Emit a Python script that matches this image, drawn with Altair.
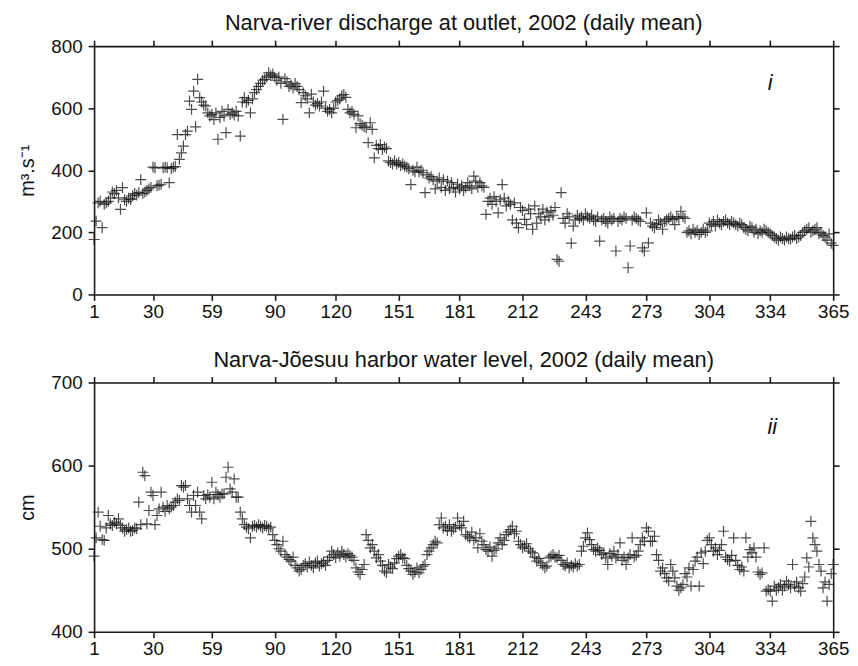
import altair as alt
import pandas as pd

FONT = "Liberation Sans"

days = list(range(1, 366))

discharge = [
    177, 236, 295, 300, 215, 290, 295, 300, 310, 330,
    325, 335, 311, 274, 344, 305, 300, 310, 306, 318,
    325, 320, 328, 370, 325, 330, 335, 340, 345, 410,
    408, 350, 352, 355, 408, 410, 408, 360, 405, 410,
    412, 515, 435, 456, 478, 515, 526, 623, 596, 655,
    540, 693, 634, 620, 610, 607, 585, 575, 580, 563,
    585, 500, 570, 590, 575, 521, 596, 580, 585, 578,
    590, 575, 510, 620, 634, 618, 625, 585, 630, 650,
    660, 670, 680, 690, 693, 700, 714, 705, 710, 700,
    690, 700, 680, 564, 695, 685, 670, 675, 665, 680,
    670, 660, 618, 650, 640, 630, 585, 645, 620, 610,
    615, 607, 620, 655, 600, 590, 596, 585, 600, 620,
    625, 630, 640, 644, 635, 596, 585, 590, 580, 537,
    575, 550, 545, 540, 537, 489, 553, 532, 440, 480,
    470, 483, 467, 475, 470, 430, 425, 420, 430, 420,
    425, 415, 420, 413, 410, 405, 354, 400, 395, 410,
    395, 400, 392, 328, 385, 375, 380, 370, 340, 365,
    375, 345, 370, 335, 365, 340, 360, 345, 330, 355,
    340, 350, 335, 345, 360, 350, 340, 381, 365, 345,
    360, 350, 345, 258, 300, 310, 290, 315, 300, 263,
    305, 354, 310, 285, 300, 290, 240, 295, 230, 215,
    280, 270, 242, 225, 275, 260, 210, 285, 230, 260,
    250, 275, 240, 265, 250, 270, 255, 280, 113, 107,
    328, 245, 230, 260, 250, 165, 220, 240, 255, 245,
    250, 240, 260, 250, 245, 255, 240, 235, 250, 172,
    240, 245, 235, 230, 250, 240, 245, 140, 235, 245,
    240, 250, 245, 86, 156, 240, 250, 245, 240, 235,
    150, 140, 263, 166, 230, 220, 215, 225, 240, 230,
    210, 235, 240, 245, 250, 242, 225, 250, 245, 268,
    250, 245, 200, 205, 195, 210, 200, 205, 193, 200,
    210, 200, 205, 230, 225, 235, 220, 240, 230, 225,
    235, 240, 230, 225, 235, 230, 225, 220, 230, 225,
    215, 210, 205, 220, 215, 200, 210, 195, 205, 200,
    210, 205, 200, 195, 190, 185, 180, 175, 185, 180,
    175, 185, 180, 178, 185, 190, 180, 185, 190, 200,
    205, 210, 215, 200, 205, 210, 215, 195, 200, 190,
    185, 175, 195, 165, 158,
]

water_level = [
    491, 513, 544, 527, 511, 510, 525, 540, 530, 528,
    532, 530, 536, 528, 525, 521, 523, 525, 521, 522,
    525, 524, 556, 529, 592, 588, 530, 546, 568, 564,
    529, 540, 548, 568, 550, 545, 552, 548, 550, 552,
    556, 560, 558, 576, 574, 576, 560, 552, 544, 564,
    552, 568, 544, 536, 564, 560, 565, 562, 580, 560,
    568, 565, 562, 566, 566, 586, 598, 572, 568, 584,
    562, 562, 544, 536, 529, 526, 524, 513, 527, 528,
    526, 529, 527, 525, 528, 527, 524, 526, 517, 510,
    505, 500, 497, 509, 493, 490, 487, 485, 490, 480,
    477, 473, 475, 480, 482, 478, 484, 480, 477, 483,
    485, 479, 482, 484, 480, 486, 490, 497, 493, 489,
    495, 491, 497, 493, 490, 494, 492, 490, 486, 477,
    472, 469, 475, 481, 517, 510, 501, 505, 497, 489,
    493, 485, 480, 473, 471, 481, 478, 476, 483, 488,
    491, 493, 489, 488, 480, 476, 473, 469, 472, 477,
    471, 475, 479, 481, 493, 497, 501, 505, 509, 507,
    529, 537, 525, 527, 522, 529, 521, 524, 526, 537,
    528, 525, 533, 517, 515, 513, 520, 510, 513, 501,
    518, 509, 505, 499, 497, 502, 491, 498, 500, 507,
    513, 505, 510, 517, 520, 523, 527, 518, 521, 509,
    505, 501, 503, 506, 500, 497, 495, 490, 485, 488,
    483, 480, 477, 479, 489, 491, 493, 490, 489, 492,
    486, 481, 479, 483, 477, 480, 478, 482, 479, 481,
    497, 503, 513, 519, 511, 505, 499, 497, 501, 498,
    493, 495, 489, 481, 494, 491, 497, 489, 493, 507,
    486, 490, 481, 489, 493, 513, 490, 492, 497, 505,
    513, 509, 525, 521, 509, 509, 515, 493, 486, 473,
    477, 470, 465, 461, 481, 473, 465, 455, 450, 453,
    457, 470, 466, 477, 455, 475, 485, 490, 455, 495,
    482, 497, 510, 513, 505, 497, 501, 493, 498, 505,
    521, 490, 487, 485, 492, 513, 486, 480, 475, 478,
    473, 513, 490, 499, 495, 501, 490, 472, 469, 471,
    501, 449, 451, 449, 437, 455, 450, 453, 457, 450,
    455, 461, 457, 453, 481, 455, 460, 453, 449, 458,
    466, 489, 478, 533, 513, 505, 497, 481, 473, 453,
    460, 437, 457, 470, 481,
]

x_ticks = [1, 30, 59, 90, 120, 151, 181, 212, 243, 273, 304, 334, 365]

top_title = "Narva-river discharge at outlet, 2002 (daily mean)"
bottom_title = "Narva-J\u00f5esuu harbor water level, 2002 (daily mean)"
top_ytitle = "m\u00b3.s\u207b\u00b9"
bottom_ytitle = "cm"
top_domain = [0, 800]
bottom_domain = [400, 700]
top_yticks = [0, 200, 400, 600, 800]
bottom_yticks = [400, 500, 600, 700]

# panel tags (data coordinates)
top_tag = {"day": [334], "v": [681], "t": ["i"]}
bottom_tag = {"day": [335], "v": [646], "t": ["ii"]}
top_box = {"x0": [346], "x1": [359], "y0": [640], "y1": [740]}
bottom_box = {"x0": [348], "x1": [358], "y0": [646], "y1": [674]}

assert len(discharge) == 365 and len(water_level) == 365

PLUS = "M-1,0L1,0M0,-1L0,1"

common = dict(
    domainColor="#1a1a1a", domainWidth=1.6, tickColor="#1a1a1a", tickWidth=1.6,
    tickSize=6, grid=False, labelFont=FONT, labelFontSize=19, labelColor="#111111",
    titleFont=FONT, titleFontSize=20, titleFontWeight="normal", titleColor="#111111",
)


def panel(values, ydom, yticks, ytitle, title, tag, box, height):
    df = pd.DataFrame({"day": days, "v": values})
    xs = alt.Scale(domain=[1, 365], nice=False, zero=False)
    ys = alt.Scale(domain=ydom, nice=False, zero=False)

    box_layer = alt.Chart(pd.DataFrame(box)).mark_rect(color="white", cornerRadius=4).encode(
        x=alt.X("x0:Q", scale=xs, axis=None), x2="x1:Q",
        y=alt.Y("y0:Q", scale=ys, axis=None), y2="y1:Q",
    )
    pts = alt.Chart(df).mark_point(
        shape=PLUS, size=121, filled=False, strokeWidth=1.2, color="#111111", opacity=0.75
    ).encode(
        x=alt.X("day:Q", scale=xs, axis=alt.Axis(values=x_ticks, title=None, labelFlush=False,
                                                  labelOverlap=False, labelPadding=2, **common)),
        y=alt.Y("v:Q", scale=ys, axis=alt.Axis(values=yticks, title=ytitle, titlePadding=14,
                                                labelPadding=6, labelOverlap=False, **common)),
    )
    frame = alt.Chart(df).mark_point(opacity=0).encode(
        x=alt.X("day:Q", scale=xs, axis=alt.Axis(orient="top", values=x_ticks, labels=False,
                                                  title=None, **common)),
        y=alt.Y("v:Q", scale=ys, axis=alt.Axis(orient="right", values=yticks, labels=False,
                                                title=None, **common)),
    )
    text = alt.Chart(pd.DataFrame(tag)).mark_text(
        font=FONT, fontSize=22, fontStyle="italic", color="#111111"
    ).encode(
        x=alt.X("day:Q", scale=xs, axis=None),
        y=alt.Y("v:Q", scale=ys, axis=None),
        text="t:N",
    )
    return alt.layer(box_layer, pts, frame, text).resolve_axis(
        x="independent", y="independent"
    ).properties(
        width=747, height=height,
        title=alt.Title(title, font=FONT, fontSize=22, fontWeight="normal", color="#111111",
                        offset=2, anchor="middle"),
    )


top = panel(discharge, top_domain, top_yticks, top_ytitle, top_title, top_tag, top_box, 251)
bottom = panel(water_level, bottom_domain, bottom_yticks, bottom_ytitle, bottom_title,
               bottom_tag, bottom_box, 252)

chart = alt.vconcat(top, bottom, spacing=26).properties(
    padding={"left": 8, "top": 0, "right": 0, "bottom": 0}
).configure_view(stroke=None, fill="#f8f8f8").configure(background="white")

chart.save("out.html", embed_options={"renderer": "svg", "actions": False})
